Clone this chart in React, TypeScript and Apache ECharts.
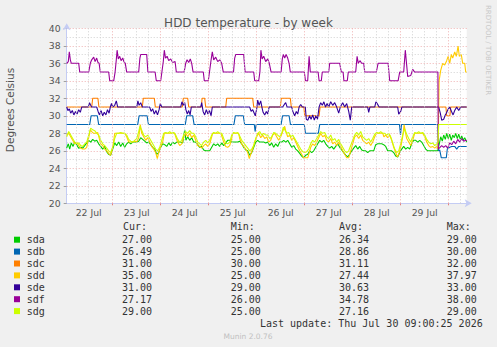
import React, { useEffect, useRef } from 'react';
import * as echarts from 'echarts';

// hours since 22 Jul 00:00 ; plot spans 22 Jul 01:00 .. 30 Jul 09:00
const X_MIN = 1;
const X_MAX = 201;
const DAY_LABELS = ['22 Jul', '23 Jul', '24 Jul', '25 Jul', '26 Jul', '27 Jul', '28 Jul', '29 Jul'];
const NOON_HOURS = [12, 36, 60, 84, 108, 132, 156, 180];
const MIDNIGHT_HOURS = [24, 48, 72, 96, 120, 144, 168, 192];
const SIX_HOUR_HOURS = [6, 12, 18, 30, 36, 42, 54, 60, 66, 78, 84, 90, 102, 108, 114, 126, 132, 138, 150, 156, 162, 174, 180, 186, 198];

const NAMES = ['sda', 'sdb', 'sdc', 'sdd', 'sde', 'sdf', 'sdg'];
const COLORS = ['#00CC00', '#0066B3', '#FF8000', '#FFCC00', '#330099', '#990099', '#CCFF00'];

const SDA: [number, number][] = [[1,26.3],[1.8,26.8],[2.5,26.2],[3.3,26.9],[4.2,26.5],[5,27],[6,26.7],[7,26.3],[8,26.4],[9,26.3],[10,26.6],[11,26.9],[12,27.2],[13,27],[14,27.3],[15,27.1],[16,27.2],[17,26.8],[18,26.5],[19,26.2],[20,26.5],[21,25.9],[22,25.6],[23,25.5],[24,26.2],[25,26.9],[26,26.6],[27,27],[28,26.5],[29,26.9],[30,26.4],[31,26.8],[32,27],[33,26.8],[34,27],[35,27],[36,27],[37,27.1],[38,27.5],[39,27.3],[40,27.1],[41,26.9],[42,27],[43,26.7],[44,26.4],[45,26.2],[46,25.6],[47,25.8],[48,26.4],[49,26.8],[50,26.7],[51,26.5],[52,26.9],[53,26.6],[54,27],[55,26.8],[56,27],[57,27],[58,27],[59,26.9],[60,28.4],[60.6,27.2],[61.5,27.6],[62.5,27.2],[63.5,27.5],[64.5,27],[65.5,27],[66.5,26.7],[67.5,26.4],[68.5,26.5],[69.5,26.1],[70.5,26],[71.5,26],[72.5,26],[73.5,26.4],[74.5,26.8],[75.5,26.6],[76.5,26.8],[77.5,26.5],[78.5,26.9],[79.5,26.6],[80.5,26.9],[81.5,27.2],[82.5,27.2],[83.5,27],[84.5,27],[85.5,27],[86.5,27],[87.5,27.1],[88.5,26.8],[89.5,26.4],[90.5,26.1],[91.5,26],[92.5,25.5],[93.5,25.8],[94.5,26.4],[95.5,27],[96.5,27.2],[97.5,27],[98.5,27],[99.5,27],[100.5,26.9],[101.5,27],[102.5,26.6],[103.5,26.9],[104.5,26.4],[105.5,26.8],[106.5,26.5],[107.5,27],[108.5,27],[109.5,27.2],[110.5,27],[111.5,27.2],[112.5,26.8],[113.5,26.4],[114.5,26.6],[115.5,26.2],[116.5,26],[117.5,25.7],[118.5,25.4],[119.5,25.2],[120.5,25.5],[121.5,25.6],[122.5,26],[123.5,25.8],[124.5,26],[125.5,26.4],[126.5,26.8],[127.5,27.2],[128.5,27],[129.5,27.2],[130.5,26.8],[131.5,26.5],[132.5,26.3],[133.5,26.5],[134.5,26.2],[135.5,26.5],[136.5,26.8],[137.5,26.4],[138.5,26.1],[139.5,25.8],[140.5,25.5],[141.5,25.3],[142.5,25.6],[143.5,26],[144.5,26.3],[145.5,26.6],[146.5,26.2],[147.5,26.5],[148.5,26.1],[149.5,26],[150.5,26],[151.5,25.8],[152.5,26],[153.5,26],[154.5,26],[155.5,26.7],[156.5,26.8],[157.5,26.8],[158.5,26.8],[159.5,26.7],[160.5,26.5],[161.5,26],[162.5,26],[163.5,26],[164.5,25.8],[165.5,25.4],[166.5,25.3],[167.5,25.8],[168.5,26.2],[169.5,26.5],[170.5,26.2],[171.5,26.4],[172.5,26.2],[173.5,26.8],[174.5,27.2],[175.5,27.2],[176.5,27],[177.5,27.2],[178.5,27],[179.5,26.6],[180.5,26.2],[181.5,26],[182.5,26],[183.5,26],[184.5,26],[185.5,26],[186.5,26],[187.3,26.8],[188,27.6],[188.8,27.1],[189.5,27.8],[190.3,27.3],[191,28],[191.8,27.4],[192.5,27.9],[193.3,27.2],[194,27.8],[194.8,27.5],[195.5,28],[196.3,27.4],[197,27.9],[197.8,27.3],[198.5,27.7],[199.3,27.2],[200,27.5],[201,27]];

const SDB: [number, number][] = [[1,29],[12.5,29],[13.2,30],[16.3,30],[17,29],[36.5,29],[37.2,30],[41.2,30],[41.9,29],[60.3,29],[61,30],[64,30],[64.7,29],[84.6,29],[85.3,30],[89.3,30],[90,29],[94.8,29],[95.2,28.2],[95.7,29],[108.2,29],[108.9,30],[112.2,30],[112.9,29],[119.8,29],[120.4,28],[126.8,28],[127.5,29],[167.4,29],[167.9,27.8],[168.4,29],[186.6,29],[186.9,26],[187.5,26.1],[188.3,25.2],[190.8,25.2],[191.3,26.2],[192.5,26.4],[193.5,26.5],[195,26.5],[196,26.2],[197,26.5],[199,26.5],[201,26.49]];

const SDC: [number, number][] = [[1,31],[13.5,31],[14,32],[16.6,32],[17.1,31],[38.8,31],[39.3,32],[44.8,32],[45.3,31],[58.8,31],[59.3,32],[61.5,32],[62,31],[68.3,31],[68.7,32],[70,32],[70.5,31],[80.5,31],[81,32],[94,32],[94.5,31],[107.8,31],[108.3,32],[112.8,32],[113.3,31],[119.6,31],[120,30],[127.2,30],[127.7,31],[190.6,31],[191,30],[192.6,30],[193,31],[201,31]];

const SDD: [number, number][] = [[1,27.8],[2,28],[3,27.6],[4,27.2],[5,26.8],[6,27],[7,26.6],[8,26.3],[9,26.2],[10,26.2],[11,26.4],[12,27.5],[12.8,28.4],[13.5,28.2],[14.5,28],[15.5,28],[16.5,28.1],[17.3,27.4],[18,26.8],[19,26.6],[20,26.2],[21,26],[22,25.7],[22.8,25.5],[23.5,25.9],[24.3,26.8],[25,28],[26,28],[27,28],[28,28],[29,28],[30,28],[31,27.6],[32,27],[33,27],[34,27],[35,27.1],[36,27],[37,27.5],[37.8,29],[38.5,28],[39.5,27.6],[40.5,27.2],[41.5,27.5],[42.5,27],[43.5,26.5],[44.5,26.2],[45.5,25.8],[46.3,25.1],[47,25.8],[48,26.5],[49,27],[49.8,28],[51,28],[52,28],[53,28],[54,28],[55,28],[55.8,27.4],[56.5,27],[57.5,26.6],[58.5,26.8],[59.5,27.5],[60.5,28],[61.5,27.6],[62.5,28],[63.5,27.5],[64.5,27.8],[65.5,27.2],[66.5,26.6],[67.5,26.5],[68.5,26.3],[69.5,26.6],[70.5,26.8],[71.5,26.5],[72.5,26.8],[73.5,27.6],[74,28],[75,28],[76,28],[77,28],[78,28],[78.8,27.5],[79.5,27],[80.5,26.5],[81.5,26.4],[82.5,26.6],[83.5,27.4],[84,28],[85,28],[86,28],[87,28],[87.5,27.4],[88.5,26.8],[89.5,26.5],[90.5,26.2],[91.5,25.8],[92.3,25.1],[93,25.6],[94,26.2],[95,27],[96,27.6],[97,28],[98,27.5],[99,27.8],[100,27.4],[101,27.6],[102,27],[103,27.2],[104,27.8],[105,28],[106,27.6],[107,27.2],[108,27.6],[109,28.2],[110,28.8],[110.6,28.2],[111.5,27.6],[112.5,27.8],[113.5,27.2],[114.5,27.5],[115.5,27],[116.5,26.5],[117.5,26],[118.5,25.6],[119.5,25.2],[120.5,25.2],[121.5,25.2],[122.3,25.8],[123,26.4],[124,26.8],[125,26.6],[126,27],[127,27.5],[128,28],[129,27.6],[130,27.8],[131,27.2],[132,27],[133,27.4],[134,26.8],[135,27],[136,26.6],[137,27],[138,26.5],[139,26],[140,25.6],[141,25.2],[142,25.2],[143,26],[144,26.8],[145,27.6],[146,27.8],[147,27.4],[148,27.8],[149,27.2],[150,27],[151,26.8],[152,27],[153,26.6],[154,27],[155,27.6],[156,28],[157,28],[158,28],[159,28],[159.6,27.6],[160.5,27.8],[161.5,27.5],[162.5,27.8],[163.5,27.2],[164.5,26.4],[165.5,25.8],[166.3,25.3],[167,25.6],[168,26.4],[169,27.6],[169.7,29],[170.3,28.2],[171,27.4],[172,27],[173,26.6],[174,27.2],[175,28],[176,28],[177,28],[178,28],[179,28],[180,27.6],[181,27],[182,26.6],[183,26.4],[184,26.5],[185,26.3],[186,26.5],[186.7,26.2],[187.2,34],[188,35.2],[189,36],[190,35.8],[191,36.3],[191.7,36.8],[192.5,36],[193.3,37],[194,36.6],[195,37.3],[195.8,36.8],[196.7,37.97],[197.3,36.8],[198.3,37],[199,36],[200,36],[200.5,35],[201,35]];

const SDE: [number, number][] = [[1,31],[1.6,30.6],[2.3,30.8],[3,30.3],[3.8,30.6],[4.6,30.1],[5.4,30.5],[6.2,30.2],[7,30.7],[7.8,30.4],[8.5,31],[11.8,31],[12.4,31.5],[13,31.2],[13.5,31],[16,31],[16.7,30.5],[17.4,30.1],[18.2,30.6],[19,30],[19.8,30.4],[20.6,30.1],[21.4,30.7],[22.2,30.3],[22.8,31],[23.4,31.4],[24,31],[25,31.2],[25.8,31.7],[26.5,31],[36,31],[36.6,31.7],[37.2,31.2],[38,31.5],[38.8,31],[42.5,31],[43.2,30.5],[44,30.8],[44.8,30.2],[45.6,30.6],[46.4,30.1],[47.2,30.7],[47.8,31.4],[48.5,31],[58,31],[58.6,31.6],[59.3,31.2],[60,31.5],[60.6,30.7],[61.3,30.2],[62,30.6],[62.7,30.1],[63.3,31],[68,31],[68.5,31.5],[69.2,30.5],[70,30.1],[70.8,30.7],[71.6,30.2],[72.4,30.6],[73.2,30],[73.8,31],[92.5,31],[93.2,30.5],[94,30.7],[95.3,30],[96,30.8],[96.5,31.8],[97.2,31.2],[98,31.7],[98.6,31],[99.2,30.4],[100,30.1],[100.8,30.5],[101.5,30.2],[102.2,31],[109,31],[109.8,31.3],[110.5,31.5],[111.2,31],[113.5,31],[114.2,30.4],[115,30],[115.8,30.5],[116.5,30.2],[117.2,31],[118,31.3],[118.8,31],[120.3,31],[120.8,29.6],[121.6,29.5],[122.4,30],[123.2,29.6],[124,30.1],[124.8,29.5],[125.6,30],[126.4,29.6],[127.2,31],[128,31.5],[128.8,31.2],[129.6,31.6],[130.4,31],[131.2,31.4],[132,31],[133,31.6],[134,31.2],[135,31.5],[136,31],[137,30.3],[137.8,31],[139,31.5],[140,31],[141,31.4],[142,30.5],[142.8,29.5],[143.5,31],[151.5,31],[152,30.4],[152.6,31],[155,31],[155.6,31.6],[156.5,31.3],[157.2,31],[166.5,31],[167,30.2],[168,30.5],[168.6,31],[187,31],[187.8,30.3],[188.5,29.5],[189.5,29.6],[190.3,30.1],[190.8,30.3],[191.6,30.7],[192.5,31],[193.4,30.5],[194.2,30.1],[195,30.6],[196,31],[197,30.6],[198,31],[201,31]];

const SDF: [number, number][] = [[1,36],[1.8,36.2],[2.3,37.3],[2.8,36.4],[3.3,36],[7,36],[7.5,35],[12,35],[12.8,36],[13.5,36.4],[14.5,36.7],[15.2,36.2],[16,36.6],[16.6,36.1],[17.2,36],[17.8,35],[22,35],[22.5,34],[24.5,34],[25.2,35],[25.8,36.4],[26.2,37.5],[26.8,36.5],[27.5,36.8],[28.2,36.3],[29,36.6],[29.6,36.2],[30.3,36],[31,35],[37,35],[37.6,36.6],[38,37],[41,37],[41.6,35],[45.2,35],[45.8,34],[48,34],[48.6,35],[49.3,36.2],[49.8,37.5],[50.4,36.6],[51.2,36.8],[52,36.3],[53,36.5],[54,36.1],[55.2,36.2],[55.8,35],[59.7,35],[60.5,36],[61.2,36.4],[62,36.1],[62.8,36.5],[63.5,36],[64.2,35],[69.3,35],[69.8,34],[71.8,34],[72.4,35],[73.2,36.4],[73.8,37.3],[74.5,36.4],[75.5,36.7],[76.5,36.2],[77.5,36.4],[78.5,36],[79.3,35],[84.4,35],[85,36.6],[85.5,37],[89.5,37],[90.2,35],[94.5,35],[95,34],[97,34],[97.6,35],[98.1,37.5],[98.7,36.5],[99.5,36.8],[100.5,36.2],[101.5,36.5],[102.3,36],[103.2,35],[108.2,35],[108.8,36.5],[109.3,37],[110,36.6],[110.7,37],[111.5,36.6],[112.2,36],[112.8,35],[119.8,35],[120.4,34],[121.5,34],[122.2,36.8],[122.8,35],[126.7,35],[127.2,34],[128.3,34],[128.8,35],[132,35],[132.5,36],[137.5,36],[138.3,35],[139.2,35],[139.6,34],[141.3,34],[141.8,35],[145.5,35],[146.2,36.8],[146.8,36],[147.6,36.3],[148.5,36],[149.5,36],[150,35],[155.8,35],[156.7,36],[161.7,36],[162.5,34],[166.7,34],[167.5,35],[169.5,35],[170.3,37.5],[171.5,34.5],[173,34.6],[174,35.3],[175,35],[186.6,35],[186.8,26.2],[188.5,26.6],[189.5,26.4],[190.5,26.6],[191.5,26.3],[192.5,26.9],[193.5,26.7],[194.5,27.1],[195.5,26.8],[196.5,27.3],[197.5,27],[198.5,27.4],[199.5,27.1],[200.5,27.2],[201,27.17]];

const SDG: [number, number][] = [[1,27.6],[2,28.2],[3,27.8],[4,27.4],[5,27],[6,26.8],[7,26.9],[8,26.6],[9,26.5],[10,26.8],[11,27],[12,27.8],[13,28.6],[14,28.4],[15,28.3],[16,28],[17,27.8],[18,27.2],[19,26.8],[20,26.6],[21,26.3],[22,26],[23,25.8],[24,26.4],[25,27.4],[26,28],[27,28],[28,28.1],[29,28],[30,28],[31,27.8],[32,27.3],[33,27.1],[34,27],[35,27.2],[36,27.4],[37,28.2],[37.6,28.8],[38.4,28.4],[39.5,27.8],[40.5,27.6],[41.5,27.8],[42.5,27.4],[43.5,27],[44.5,26.6],[45.5,26.2],[46.5,26],[47.5,26.4],[48.5,27.2],[49.5,28],[50.5,28.1],[51.5,28],[52.5,28.2],[53.5,28],[54.5,28.1],[55.5,27.8],[56.5,27.3],[57.5,27],[58.5,27.2],[59.5,27.8],[60.5,28.2],[61.5,28],[62.5,28.3],[63.5,28],[64.5,28],[65.5,27.6],[66.5,27],[67.5,26.8],[68.5,26.6],[69.5,27],[70.5,27.2],[71.5,26.9],[72.5,27.2],[73.5,27.8],[74.5,28.1],[75.5,28],[76.5,28.2],[77.5,28],[78.5,28],[79.5,27.4],[80.5,26.9],[81.5,26.8],[82.5,27],[83.5,27.8],[84.5,28.1],[85.5,28],[86.5,28.1],[87.5,27.7],[88.5,27.2],[89.5,26.9],[90.5,26.6],[91.5,26.3],[92.5,26],[93.5,26.2],[94.5,26.6],[95.5,27.4],[96.5,28],[97.5,28.2],[98.5,27.8],[99.5,28],[100.5,27.8],[101.5,27.8],[102.5,27.4],[103.5,27.6],[104.5,28.1],[105.5,28],[106.5,27.8],[107.5,27.6],[108.5,28],[109.3,28.7],[110,28.4],[111,28],[112,28.1],[113,27.6],[114,27.8],[115,27.4],[116,27],[117,26.6],[118,26.2],[119,25.9],[120,25.8],[121,25.9],[122,26.2],[123,26.8],[124,27.2],[125,27],[126,27.4],[127,27.8],[128,28.2],[129,28],[130,28.1],[131,27.6],[132,27.4],[133,27.8],[134,27.2],[135,27.4],[136,27],[137,27.3],[138,26.8],[139,26.4],[140,26],[141,25.8],[142,26],[143,26.6],[144,27.2],[145,27.8],[146,28.1],[147,27.8],[148,28.2],[149,27.6],[150,27.4],[151,27.2],[152,27.4],[153,27],[154,27.4],[155,27.9],[156,28.1],[157,28],[158,28.2],[159,28],[160,28],[161,27.8],[162,28],[163,27.6],[164,26.9],[165,26.2],[166,25.8],[167,26],[168,26.8],[169,27.8],[170,28.5],[171,27.9],[172,27.4],[173,27],[174,27.6],[175,28.1],[176,28],[177,28.2],[178,28],[179,28.1],[180,27.8],[181,27.3],[182,27],[183,26.8],[184,26.9],[185,26.6],[186,26.8],[186.7,27],[187,29],[201,29]];

const SERIES_DATA = [SDA, SDB, SDC, SDD, SDE, SDF, SDG];

const CUR = ['27.00', '26.49', '31.00', '35.00', '31.00', '27.17', '29.00'];
const MIN = ['25.00', '25.00', '30.00', '25.00', '29.00', '26.00', '25.00'];
const AVG = ['26.34', '28.86', '31.11', '27.44', '30.63', '34.78', '27.16'];
const MAX = ['29.00', '30.00', '32.00', '37.97', '33.00', '38.00', '29.00'];
const HEADERS = ['Cur:', 'Min:', 'Avg:', 'Max:'];
const LAST_UPDATE = 'Last update: Thu Jul 30 09:00:25 2026';

export default function App() {
  const ref = useRef<HTMLDivElement>(null);
  useEffect(() => {
    if (!ref.current) return;
    const chart = echarts.init(ref.current, null, { renderer: 'svg' });
    const mono = 'DejaVu Sans Mono';
    const sans = 'DejaVu Sans';
    const textColor = '#333';
    const rowY = (i: number) => 239.7 + 11.9 * i;
    const colX = [122, 230.7, 339, 446.7];
    const headerX = [123, 230.7, 339, 446.7];
    const cols = [CUR, MIN, AVG, MAX];

    const graphics: any[] = [];
    HEADERS.forEach((h, c) => {
      graphics.push({ type: 'text', x: headerX[c], y: 226.7, style: { text: h, font: `10px "${mono}"`, fill: textColor, verticalAlign: 'middle' } });
    });
    NAMES.forEach((n, i) => {
      graphics.push({ type: 'rect', shape: { x: 14, y: rowY(i) - 3, width: 6, height: 6 }, style: { fill: COLORS[i] } });
      graphics.push({ type: 'text', x: 26.7, y: rowY(i), style: { text: n, font: `10px "${mono}"`, fill: textColor, verticalAlign: 'middle' } });
      cols.forEach((col, c) => {
        graphics.push({ type: 'text', x: colX[c], y: rowY(i), style: { text: col[i], font: `10px "${mono}"`, fill: textColor, verticalAlign: 'middle' } });
      });
    });
    graphics.push({ type: 'text', x: 482.7, y: 323.3, style: { text: LAST_UPDATE, font: `10px "${mono}"`, fill: textColor, align: 'right', verticalAlign: 'middle' } });
    graphics.push({ type: 'text', x: 248, y: 336.3, style: { text: 'Munin 2.0.76', font: `7.5px "${sans}"`, fill: '#c0c0c0', align: 'center', verticalAlign: 'middle' } });
    graphics.push({ type: 'text', x: 10, y: 110, rotation: Math.PI / 2, style: { text: 'Degrees Celsius', font: `10.5px "${sans}"`, fill: '#555', align: 'center', verticalAlign: 'middle' } });
    graphics.push({ type: 'text', x: 488, y: 5, rotation: -Math.PI / 2, style: { text: 'RRDTOOL / TOBI OETIKER', font: `7px "${sans}"`, fill: '#c8c8c8', align: 'left', verticalAlign: 'middle' } });

    const gridLines: any[] = [
      ...SIX_HOUR_HOURS.map((h) => ({ xAxis: h, lineStyle: { color: '#d0d0d0', type: [1, 2], width: 1 } })),
      ...MIDNIGHT_HOURS.map((h) => ({ xAxis: h, lineStyle: { color: '#efb0b0', type: [1, 2], width: 1 } })),
    ];

    const series: any[] = [
      {
        type: 'line',
        data: [],
        silent: true,
        markLine: { silent: true, symbol: 'none', label: { show: false }, data: gridLines },
      },
      ...NAMES.map((n, i) => ({
        name: n,
        type: 'line',
        data: SERIES_DATA[i],
        showSymbol: false,
        symbol: 'none',
        lineStyle: { color: COLORS[i], width: 1.1 },
        itemStyle: { color: COLORS[i] },
      })),
    ];

    chart.setOption({
      animation: false,
      backgroundColor: '#f0f0f0',
      title: {
        text: 'HDD temperature - by week',
        left: 'center',
        top: 12,
        textStyle: { fontFamily: sans, fontSize: 12, fontWeight: 'normal', color: '#555' },
      },
      grid: { left: 66.7, top: 28.3, width: 400, height: 175, show: true, backgroundColor: '#ffffff', borderWidth: 0 },
      xAxis: {
        type: 'value',
        min: X_MIN,
        max: X_MAX,
        axisLine: { show: true, onZero: false, lineStyle: { color: '#c4ccf4' }, symbol: ['none', 'arrow'], symbolSize: [6, 7], symbolOffset: [0, 5] },
        splitLine: { show: false },
        axisTick: { show: true, customValues: MIDNIGHT_HOURS, length: 2, lineStyle: { color: '#e08080' } },
        axisLabel: {
          customValues: NOON_HOURS,
          formatter: (v: number) => DAY_LABELS[NOON_HOURS.indexOf(v)] ?? '',
          fontFamily: sans,
          fontSize: 9.3,
          color: '#555',
          margin: 5,
        },
      },
      yAxis: {
        type: 'value',
        min: 20,
        max: 40,
        interval: 2,
        axisLine: { show: true, lineStyle: { color: '#c4ccf4' }, symbol: ['none', 'arrow'], symbolSize: [6, 7], symbolOffset: [0, 5] },
        axisTick: { show: true, length: 3, lineStyle: { color: '#a0a0a0' } },
        axisLabel: { fontFamily: sans, fontSize: 9.3, color: '#555', margin: 6 },
        splitLine: { show: true, lineStyle: { color: '#efb0b0', type: [1, 2], width: 1 } },
        minorTick: { show: false, splitNumber: 2 },
        minorSplitLine: { show: true, lineStyle: { color: '#d0d0d0', type: [1, 2], width: 1 } },
      },
      graphic: graphics,
      series,
    });
    return () => chart.dispose();
  }, []);
  return <div ref={ref} style={{ position: 'fixed', left: 0, top: 0, width: 497, height: 347 }} />;
}
